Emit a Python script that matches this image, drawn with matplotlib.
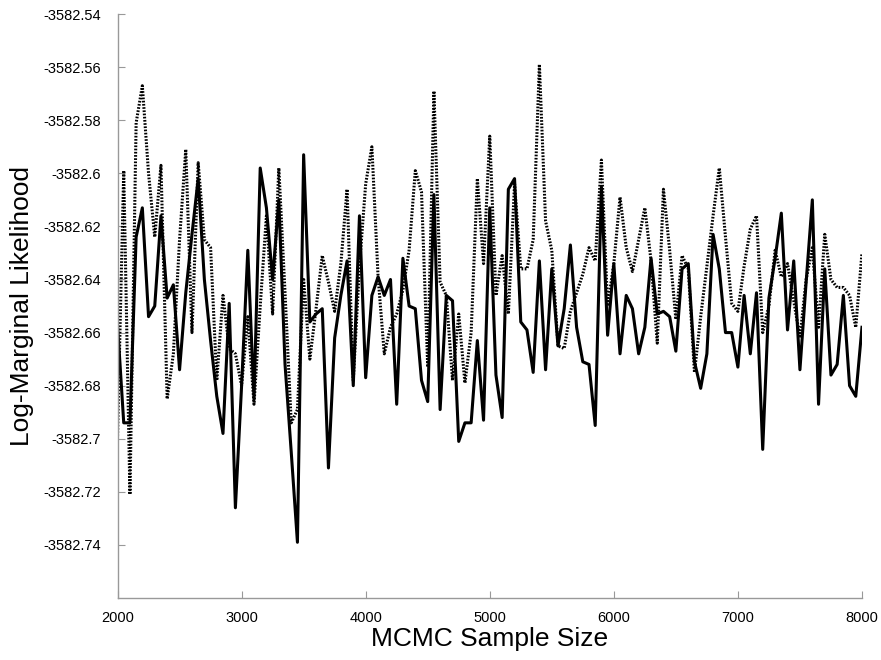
import numpy as np
import matplotlib
matplotlib.use('Agg')
import matplotlib.pyplot as plt
from matplotlib.ticker import FixedLocator, FuncFormatter

plt.rcParams['font.family'] = ['Liberation Sans', 'DejaVu Sans']

# MCMC sample sizes, 2000..8000 in steps of 50
sample_size = np.arange(2000, 8001, 50)

# solid curve
loglik_solid = [
    -3582.657, -3582.694, -3582.694, -3582.624, -3582.613, -3582.654, -3582.650, -3582.616,
    -3582.647, -3582.642, -3582.674, -3582.645, -3582.623, -3582.602, -3582.640, -3582.663,
    -3582.684, -3582.698, -3582.649, -3582.726, -3582.680, -3582.629, -3582.685, -3582.598,
    -3582.613, -3582.640, -3582.610, -3582.672, -3582.705, -3582.739, -3582.593, -3582.656,
    -3582.653, -3582.651, -3582.711, -3582.662, -3582.646, -3582.633, -3582.680, -3582.616,
    -3582.677, -3582.646, -3582.639, -3582.646, -3582.640, -3582.687, -3582.632, -3582.650,
    -3582.651, -3582.678, -3582.686, -3582.608, -3582.689, -3582.646, -3582.648, -3582.701,
    -3582.694, -3582.694, -3582.663, -3582.693, -3582.613, -3582.676, -3582.692, -3582.606,
    -3582.602, -3582.656, -3582.659, -3582.675, -3582.633, -3582.674, -3582.636, -3582.665,
    -3582.651, -3582.627, -3582.658, -3582.671, -3582.672, -3582.695, -3582.605, -3582.661,
    -3582.634, -3582.668, -3582.646, -3582.651, -3582.668, -3582.658, -3582.632, -3582.653,
    -3582.652, -3582.654, -3582.667, -3582.636, -3582.634, -3582.671, -3582.681, -3582.668,
    -3582.623, -3582.636, -3582.660, -3582.660, -3582.673, -3582.646, -3582.668, -3582.645,
    -3582.704, -3582.647, -3582.632, -3582.615, -3582.659, -3582.633, -3582.674, -3582.641,
    -3582.610, -3582.687, -3582.636, -3582.676, -3582.672, -3582.646, -3582.680, -3582.684,
    -3582.658,
]

# dotted curve
loglik_dotted = [
    -3582.699, -3582.599, -3582.721, -3582.581, -3582.567, -3582.600, -3582.624, -3582.597,
    -3582.685, -3582.668, -3582.625, -3582.591, -3582.660, -3582.596, -3582.625, -3582.628,
    -3582.678, -3582.646, -3582.666, -3582.668, -3582.680, -3582.654, -3582.687, -3582.650,
    -3582.616, -3582.653, -3582.598, -3582.645, -3582.694, -3582.689, -3582.640, -3582.670,
    -3582.651, -3582.631, -3582.641, -3582.652, -3582.634, -3582.606, -3582.678, -3582.635,
    -3582.604, -3582.590, -3582.639, -3582.668, -3582.658, -3582.653, -3582.644, -3582.629,
    -3582.599, -3582.607, -3582.673, -3582.569, -3582.641, -3582.646, -3582.678, -3582.653,
    -3582.679, -3582.660, -3582.602, -3582.634, -3582.586, -3582.646, -3582.631, -3582.653,
    -3582.604, -3582.636, -3582.636, -3582.625, -3582.559, -3582.618, -3582.629, -3582.665,
    -3582.666, -3582.652, -3582.645, -3582.638, -3582.628, -3582.633, -3582.595, -3582.650,
    -3582.634, -3582.609, -3582.628, -3582.637, -3582.625, -3582.613, -3582.633, -3582.664,
    -3582.606, -3582.629, -3582.655, -3582.631, -3582.636, -3582.675, -3582.654, -3582.635,
    -3582.616, -3582.598, -3582.624, -3582.649, -3582.652, -3582.635, -3582.621, -3582.616,
    -3582.660, -3582.650, -3582.629, -3582.639, -3582.634, -3582.648, -3582.662, -3582.640,
    -3582.628, -3582.658, -3582.623, -3582.640, -3582.643, -3582.643, -3582.646, -3582.658,
    -3582.630,
]

y_ticks = [-3582.74, -3582.72, -3582.70, -3582.68, -3582.66, -3582.64,
           -3582.62, -3582.60, -3582.58, -3582.56, -3582.54]
x_ticks = [2000, 3000, 4000, 5000, 6000, 7000, 8000]

fig = plt.figure(figsize=(8.81, 6.6), dpi=100)
ax = fig.add_axes([0.1334, 0.0939, 0.845, 0.8848])

ax.plot(sample_size, loglik_dotted, color='black', lw=2.2, linestyle=(0, (0.55, 0.5)))
ax.plot(sample_size, loglik_solid, color='black', lw=2.2, linestyle='-')

ax.set_xlim(2000, 8000)
ax.set_ylim(-3582.76, -3582.54)
ax.xaxis.set_major_locator(FixedLocator(x_ticks))
ax.yaxis.set_major_locator(FixedLocator(y_ticks))
ax.yaxis.set_major_formatter(FuncFormatter(lambda v, p: ('%.2f' % v).rstrip('0').rstrip('.')))

for s in ['top', 'right']:
    ax.spines[s].set_visible(False)
for s in ['left', 'bottom']:
    ax.spines[s].set_color('#999999')
    ax.spines[s].set_linewidth(1.0)
ax.tick_params(direction='in', length=5, color='#999999', labelsize=10.5, labelcolor='black')
ax.tick_params(axis='y', pad=12)
ax.tick_params(axis='x', pad=9)

ax.set_xlabel('MCMC Sample Size', fontsize=19, labelpad=2)
ax.set_ylabel('Log-Marginal Likelihood', fontsize=19, labelpad=7)

fig.savefig('out.png', dpi=100)
